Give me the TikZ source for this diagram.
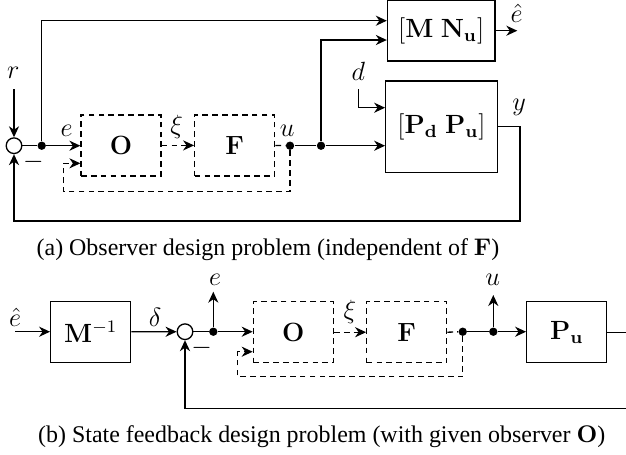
\documentclass[tikz,border=0pt]{standalone}
\usepackage[no-math]{fontspec}
\newfontfamily\capfont{Liberation Serif}
\usetikzlibrary{arrows.meta, calc}

\tikzset{
  block/.style={draw, semithick, minimum width=1.28cm, minimum height=0.975cm, inner sep=0pt, font=\large},
  dblock/.style={block, dash pattern=on 2.6pt off 1.9pt},
  sumnode/.style={draw, semithick, circle, minimum size=0.25cm, inner sep=0pt},
  dot/.style={circle, fill, minimum size=3.8pt, inner sep=0pt},
  wire/.style={semithick},
  dwire/.style={semithick, dash pattern=on 2.6pt off 1.9pt},
  sig/.style={semithick, -{Stealth[length=5pt, width=4.6pt, inset=1.6pt]}},
  dsig/.style={sig, dash pattern=on 2.6pt off 1.9pt},
  lbl/.style={font=\large, inner sep=0pt},
  caption/.style={font=\capfont\fontsize{10.9}{13}\selectfont, inner sep=0pt}
}

\begin{document}
\begin{tikzpicture}[x=0.016cm, y=-0.016cm]
  \useasboundingbox (0,0) rectangle (626,454);
  \clip (0,0) rectangle (626,454);

  % ---- (a) observer design ----
  \node[sumnode] (s1) at (14,145.7) {};
  \node[dot] (j1) at (41.7,145.7) {};
  \node[dblock] (obs) at (121,145.4) {$\mathbf{O}$};
  \node[dblock] (fb) at (234.7,145.4) {$\mathbf{F}$};
  \node[dot] (j2) at (290,145.7) {};
  \node[dot] (j3) at (321,145.7) {};
  \node[block, minimum width=1.72cm, minimum height=0.97cm] (mn) at (441.2,30.7)
    {$[\mathbf{M}\;\mathbf{N}_{\mathbf{u}}]$};
  \node[block, minimum width=1.785cm, minimum height=1.46cm] (plant) at (441.5,126.7)
    {$[\mathbf{P}_{\mathbf{d}}\;\mathbf{P}_{\mathbf{u}}]$};

  \coordinate (rin) at (14,89);
  \coordinate (din) at (358.3,89.3);
  \coordinate (loopA) at (63.3,191.7);
  \coordinate (fbk) at (520,221);

  \node[lbl] (r) at (13.3,73.3) {$r$};
  \node[lbl] (d) at (358.3,71.7) {$d$};
  \node[lbl] (e) at (66.7,130.7) {$e$};
  \node[lbl] (xi) at (176.7,126.7) {$\xi$};
  \node[lbl] (u) at (287.3,130.7) {$u$};
  \node[lbl] (y) at (519,107.5) {$y$};
  \node[lbl] (ehat) at (516.7,13.3) {$\hat{e}$};
  \node[lbl] (m1) at (33.3,161.7) {$-$};

  \draw[sig] (rin) -- (s1.north);
  \draw[wire] (s1.east) -- (j1);
  \draw[sig] (j1) -- (j1 -| obs.west);
  \draw[sig] (j1) |- ($(mn.west)+(0,-10)$);
  \draw[dsig] (obs.east) -- (fb.west);
  \draw[dwire] (fb.east) -- (j2);
  \draw[wire] (j2) -- (j3);
  \draw[sig] (j3) |- ($(mn.west)+(0,9.3)$);
  \draw[sig] (j3) -- (j3 -| plant.west);
  \draw[sig] (din) |- ($(plant.west)+(0,-19)$);
  \draw[sig] (mn.east) -- ++(21.7,0);
  \draw[sig] (plant.east) -| (fbk) -| (s1.south);
  \draw[dsig] (j2) |- (loopA) |- ($(obs.west)+(0,17.9)$);

  \node[caption] (capa) at (268,250) {(a) Observer design problem (independent of $\mathbf{F}$)};

  % ---- (b) state feedback design ----
  \coordinate (ein) at (15,331.7);
  \node[block] (minv) at (90.7,331.8) {$\mathbf{M}^{-1}$};
  \node[sumnode] (s2) at (185,331.7) {};
  \node[dot] (j4) at (213.3,331.7) {};
  \node[dblock] (obs2) at (293.3,332.2) {$\mathbf{O}$};
  \node[dblock] (fb2) at (406.7,332.2) {$\mathbf{F}$};
  \node[dot] (j5) at (462.7,331.7) {};
  \node[dot] (j6) at (493.3,331.7) {};
  \node[block] (pu) at (566.7,332.2) {$\mathbf{P}_{\mathbf{u}}$};

  \coordinate (eup) at (213.3,291.7);
  \coordinate (uup) at (493.3,295);
  \coordinate (loopB) at (237.7,376.7);
  \coordinate (fbk2) at (640,408.3);

  \node[lbl] (ehat2) at (15,317.5) {$\hat{e}$};
  \node[lbl] (delta) at (155,317.5) {$\delta$};
  \node[lbl] (e2) at (215,280) {$e$};
  \node[lbl] (xi2) at (350,311.7) {$\xi$};
  \node[lbl] (u2) at (492.7,280) {$u$};
  \node[lbl] (m2) at (201.7,348.3) {$-$};

  \draw[sig] (ein) -- (ein -| minv.west);
  \draw[sig] (minv.east) -- (s2.west);
  \draw[wire] (s2.east) -- (j4);
  \draw[sig] (j4) -- (eup);
  \draw[sig] (j4) -- (j4 -| obs2.west);
  \draw[dsig] (obs2.east) -- (fb2.west);
  \draw[dwire] (fb2.east) -- (j5);
  \draw[wire] (j5) -- (j6);
  \draw[sig] (j6) -- (uup);
  \draw[sig] (j6) -- (j6 -| pu.west);
  \draw[sig] (pu.east) -| (fbk2) -| (s2.south);
  \draw[dsig] (j5) |- (loopB) |- ($(obs2.west)+(0,19.5)$);

  \node[caption] (capb) at (321.7,436.7) {(b) State feedback design problem (with given observer $\mathbf{O}$)};
\end{tikzpicture}
\end{document}
